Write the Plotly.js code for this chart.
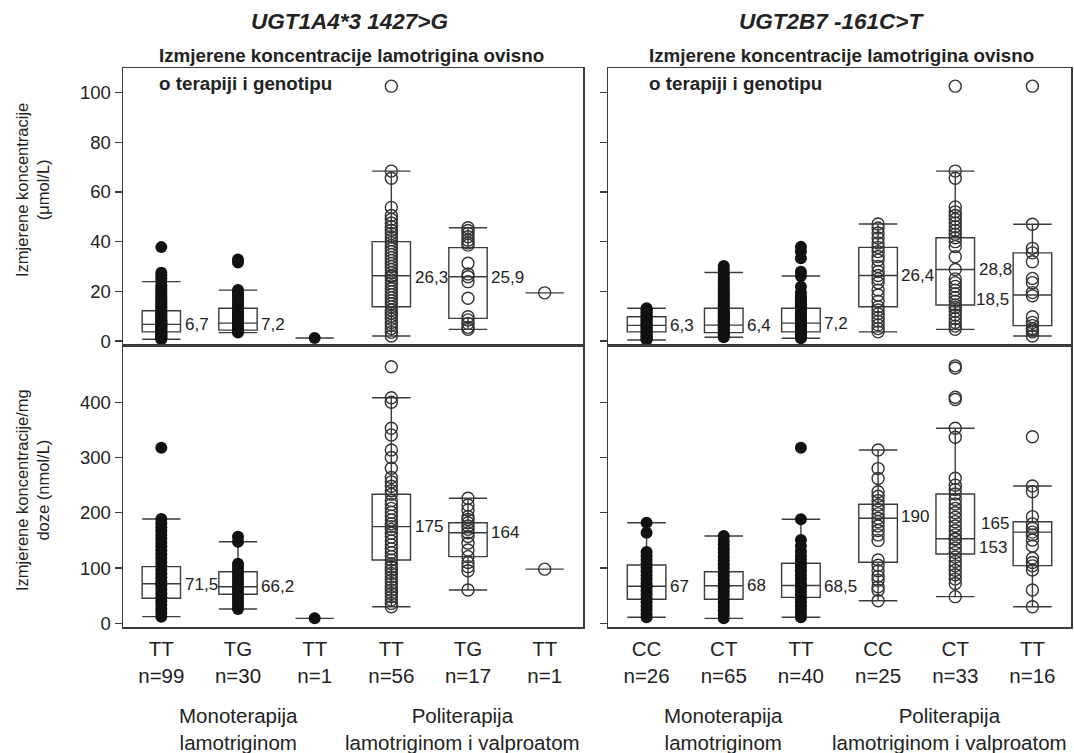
<!DOCTYPE html>
<html><head><meta charset="utf-8">
<script src="https://cdn.plot.ly/plotly-3.0.1.min.js"></script>
<style>html,body{margin:0;padding:0;background:#fff}#chart{width:1074px;height:753px}</style>
</head><body><div id="chart"></div>
<script>
// ---------- categories ----------
const ugt1Genotypes = ['TT','TG','TT','TT','TG','TT'];
const ugt1Counts = [99,30,1,56,17,1];
const ugt2Genotypes = ['CC','CT','TT','CC','CT','TT'];
const ugt2Counts = [26,65,40,25,33,16];
const therapyGroups = ['Monoterapija<br>lamotriginom','Politerapija<br>lamotriginom i valproatom'];
const geneTitles = ['UGT1A4*3 1427>G','UGT2B7 -161C>T'];
const subTitle1 = 'Izmjerene koncentracije lamotrigina ovisno';
const subTitle2 = 'o terapiji i genotipu';
const yTitleConc = 'Izmjerene koncentracije<br>(μmol/L)';
const yTitleDose = 'Izmjerene koncentracije/mg<br>doze (nmol/L)';

// ---------- UGT1A4, concentration (μmol/L) ----------
const ugt1ConcQ1  = [3.7, 4.4, 1.2, 13.8, 9.1, 19.4];
const ugt1ConcMed = [6.7, 7.2, 1.2, 26.3, 25.9, 19.4];
const ugt1ConcQ3  = [12.2, 13.2, 1.2, 40.0, 37.6, 19.4];
const ugt1ConcLo  = [0.7, 3.4, 1.2, 2.0, 4.7, 19.4];
const ugt1ConcHi  = [23.9, 20.5, 1.2, 68.4, 45.6, 19.4];
const ugt1ConcLabels = ['6,7','7,2','','26,3','25,9',''];
const ugt1ConcPoints = [
  [0.7,1.1,1.5,1.9,2.3,2.7,3.0,3.4,3.7,4.1,4.5,4.9,5.3,5.6,6.0,6.4,6.7,7.1,7.5,7.9,8.4,8.9,9.4,9.9,10.5,11.1,11.7,12.2,12.9,13.6,14.3,15.1,15.9,16.7,17.6,18.5,19.4,20.3,21.3,22.4,23.9,25.2,26.4,27.5,37.8],
  [3.4,3.9,4.4,5.0,5.6,6.2,6.8,7.2,7.8,8.5,9.2,10.0,10.8,11.6,12.5,13.2,14.2,15.3,16.4,17.6,18.8,19.6,20.5,31.6,32.8],
  [1.2],
  [2.0,3.5,5.0,6.3,7.5,8.8,10.0,11.2,12.5,13.8,15.0,16.2,17.4,18.6,19.8,21.0,22.2,23.4,24.6,25.9,26.3,27.5,28.8,30.0,31.2,32.4,33.6,34.8,36.0,37.2,38.4,39.6,40.8,42.0,43.3,44.6,46.0,47.5,49.0,50.5,53.8,65.5,68.4,102.6],
  [4.7,5.5,7.1,8.5,9.8,17.2,23.9,25.9,27.0,31.3,38.6,39.5,40.6,42.0,43.3,44.5,45.6],
  [19.4]
];

// ---------- UGT2B7, concentration (μmol/L) ----------
const ugt2ConcQ1  = [3.7, 3.4, 3.7, 13.8, 14.5, 6.2];
const ugt2ConcMed = [6.3, 6.4, 7.2, 26.4, 28.8, 18.5];
const ugt2ConcQ3  = [9.8, 13.2, 13.2, 37.7, 41.6, 35.5];
const ugt2ConcLo  = [0.4, 1.5, 1.1, 3.7, 4.7, 2.0];
const ugt2ConcHi  = [13.2, 27.6, 26.2, 47.1, 68.4, 47.0];
const ugt2ConcLabels = ['6,3','6,4','7,2','26,4','28,8','18,5'];
const ugt2ConcPoints = [
  [0.4,0.9,1.4,1.9,2.4,2.9,3.4,3.9,4.4,4.9,5.4,5.9,6.3,6.8,7.3,7.8,8.3,8.8,9.3,9.8,10.4,11.0,11.6,12.2,12.7,13.2],
  [1.5,2.0,2.5,3.0,3.5,4.0,4.5,5.0,5.5,6.0,6.4,6.9,7.4,7.9,8.4,9.0,9.6,10.2,10.8,11.4,12.0,12.6,13.2,13.9,14.6,15.3,16.0,16.8,17.6,18.4,19.2,20.0,20.9,21.8,22.7,23.6,24.6,25.6,26.6,27.6,28.9,30.2],
  [1.1,1.6,2.1,2.6,3.1,3.7,4.2,4.7,5.2,5.8,6.4,7.0,7.2,7.8,8.4,9.0,9.7,10.4,11.1,11.8,12.5,13.2,14.0,14.8,15.6,16.4,17.2,17.8,19.5,21.9,26.2,27.9,33.3,36.0,37.9],
  [3.7,5.0,6.5,8.0,9.5,11.0,12.5,13.8,16.0,18.5,20.5,23.5,25.0,26.4,28.0,30.0,32.6,34.0,36.0,37.7,39.5,41.5,43.5,45.5,47.1],
  [4.7,6.0,7.5,9.0,10.5,12.0,13.5,14.5,16.0,17.5,19.0,20.5,22.0,23.5,25.0,28.8,33.9,38.0,40.0,41.6,43.0,44.5,46.0,47.5,49.0,50.5,52.0,54.0,65.5,68.4,102.6],
  [2.0,3.7,4.5,5.0,6.2,7.5,9.8,18.2,19.5,23.5,25.2,31.9,35.5,37.3,47.0,102.6]
];

// ---------- UGT1A4, dose-normalised (nmol/L) ----------
const ugt1DoseQ1  = [45.2, 52.5, 9, 114.6, 120.6, 98];
const ugt1DoseMed = [71.5, 66.2, 9, 175, 164, 98];
const ugt1DoseQ3  = [102.5, 93.4, 9, 233.5, 182.1, 98];
const ugt1DoseLo  = [12, 25.9, 9, 30, 60.3, 98];
const ugt1DoseHi  = [188.8, 147.7, 9, 408.3, 226.2, 98];
const ugt1DoseLabels = ['71,5','66,2','','175','164',''];
const ugt1DosePoints = [
  [12,19,26,33,40,47,54,61,68,71.5,76,83,90,97,104,111,118,125,132,139,146,153,160,167,174,181,188.8,317.8],
  [25.9,32,38,44,50,56,62,66.2,72,78,84,90,96,102,108,147.7,156.8],
  [9],
  [30,36,42,48,54,60,66,72,78,84,90,96,102,108,114.6,121,128,135,142,149,156,163,170,175,180,187,194,201,208,215,222,233.5,240,248,256,264,280.5,300,313.7,341,353,400,408.3,464.4],
  [60.3,95,102.5,110,120.6,132.7,145,157,164,170,176,182,188,193,205,214,226.2],
  [98]
];

// ---------- UGT2B7, dose-normalised (nmol/L) ----------
const ugt2DoseQ1  = [43.4, 43.4, 47, 110.4, 125.4, 104.3];
const ugt2DoseMed = [67, 68, 68.5, 190, 153, 165];
const ugt2DoseQ3  = [105.5, 93.4, 108.6, 215.4, 234, 183.9];
const ugt2DoseLo  = [10.9, 9, 10.9, 40.9, 48.2, 30];
const ugt2DoseHi  = [182, 158, 188.2, 313.7, 353, 248.5];
const ugt2DoseLabels = ['67','68','68,5','190','153','165'];
const ugt2DosePoints = [
  [10.9,17,24,31,38,45,52,59,66,67,73,80,87,94,101,108,115,122,129,164,182],
  [9,16,23,30,37,44,51,58,65,68,72,79,86,93,100,107,114,121,128,135,142,149,158],
  [10.9,17,24,31,38,45,52,59,66,68.5,73,80,87,94,101,108,115,122,130,140,150.8,188.2,317.8],
  [40.9,60,66,78,85,95,105,114.6,150,160,168,176,184,190,198,206,214,222,230,238,262,280,313.7],
  [48.2,72,80,88,96,104,112,120,128,136,144,152,153,160,168,176,184,192,200,208,216,224,234,242,250,262.4,336.6,353,405,409,462,466],
  [30,60.3,96.5,104,110,117.6,140,150.8,160,165,172,180,193,238,248.5,337.7]
];

// ---------- styling ----------
const FONT = 'Liberation Sans, Arial, Helvetica, sans-serif';
const TXT = '#222';
const LINE = '#3c3c3c';
const positions = [0,1,2,3,4,5];

const traces = [];
const annotations = [];

function addPanel(xa, ya, q1, med, q3, lo, hi, pts, labels, labelSide, labelShift) {
  traces.push({
    type:'box', xaxis:xa, yaxis:ya, x:positions,
    q1:q1, median:med, q3:q3, lowerfence:lo, upperfence:hi,
    width:0.5, whiskerwidth:1, boxpoints:false,
    line:{color:LINE, width:1.4}, fillcolor:'rgba(0,0,0,0)',
    hoverinfo:'skip', showlegend:false
  });
  const mx=[], my=[], px=[], py=[];
  pts.forEach((arr,i)=>arr.forEach(v=>{
    if (i<3) { mx.push(positions[i]); my.push(v); } else { px.push(positions[i]); py.push(v); }
  }));
  traces.push({type:'scatter', mode:'markers', xaxis:xa, yaxis:ya, x:mx, y:my,
    marker:{symbol:'circle', size:12, color:'#111'}, hoverinfo:'skip', showlegend:false});
  traces.push({type:'scatter', mode:'markers', xaxis:xa, yaxis:ya, x:px, y:py,
    marker:{symbol:'circle-open', size:12, color:'#333', line:{width:1.4}}, hoverinfo:'skip', showlegend:false});
  labels.forEach((t,i)=>{
    if (!t) return;
    const right = labelSide[i] >= 0;
    annotations.push({
      xref:xa, yref:ya, x: positions[i] + (right?0.25:-0.25), y: med[i],
      text:t, showarrow:false, xanchor: right?'left':'right', yanchor:'middle',
      xshift: right?2:-2, yshift: labelShift[i],
      font:{family:FONT, size:17, color:TXT}
    });
  });
}

addPanel('x','y', ugt1ConcQ1, ugt1ConcMed, ugt1ConcQ3, ugt1ConcLo, ugt1ConcHi, ugt1ConcPoints, ugt1ConcLabels,
  [1,1,1,1,1,1], [0,-1,0,-2,-1,0]);
addPanel('x2','y2', ugt2ConcQ1, ugt2ConcMed, ugt2ConcQ3, ugt2ConcLo, ugt2ConcHi, ugt2ConcPoints, ugt2ConcLabels,
  [1,1,1,1,1,-1], [0,0,0,0,0,-4]);
addPanel('x3','y3', ugt1DoseQ1, ugt1DoseMed, ugt1DoseQ3, ugt1DoseLo, ugt1DoseHi, ugt1DosePoints, ugt1DoseLabels,
  [1,1,1,1,1,1], [-1,0,0,0,0,0]);
addPanel('x4','y4', ugt2DoseQ1, ugt2DoseMed, ugt2DoseQ3, ugt2DoseLo, ugt2DoseHi, ugt2DosePoints, ugt2DoseLabels,
  [1,1,1,1,1,-1], [0,0,-1,2,-9,9]);

// page geometry (pixels -> paper)
const W = 1074, H = 753;
const px = v => v / W, py = v => 1 - v / H;
const leftDom = [px(123), px(583)];
const rightDom = [px(608), px(1071)];
const topDom = [py(345), py(68)];
const botDom = [py(627), py(345)];
const catCenters = (d) => positions.map(p => d[0] + (p + 0.5) / 6 * (d[1] - d[0]));

function xAxis(dom, anchor, cats, counts) {
  const a = {domain:dom, anchor:anchor, range:[-0.5,5.5], showgrid:false, zeroline:false,
    showline:true, mirror:true, linecolor:LINE, linewidth:1.5, ticks:'', fixedrange:true};
  if (cats) {
    a.tickmode='array'; a.tickvals=positions;
    a.ticktext = cats.map((c,i)=>c+'<br>n='+counts[i]);
    a.tickfont={family:FONT, size:20.5, color:TXT};
    a.ticklabelstandoff = 3;
  } else { a.showticklabels=false; }
  return a;
}
function yAxis(dom, anchor, range, tickvals, labels) {
  return {domain:dom, anchor:anchor, range:range, tickmode:'array', tickvals:tickvals,
    showgrid:false, zeroline:false, showline:true, mirror:true, linecolor:LINE, linewidth:1.5,
    ticks:'outside', ticklen:7, tickwidth:1.3, tickcolor:LINE, showticklabels:labels,
    tickfont:{family:FONT, size:18.5, color:TXT}, fixedrange:true};
}

const concTicks = [0,20,40,60,80,100];
const doseTicks = [0,100,200,300,400];
const concRange = [-1.6, 109.9];
const doseRange = [-6.7, 503.7];

// titles
annotations.push({xref:'paper', yref:'paper', x:px(349), y:py(22), text:'<b><i>'+geneTitles[0]+'</i></b>',
  showarrow:false, xanchor:'center', yanchor:'middle', font:{family:FONT, size:22.5, color:TXT}});
annotations.push({xref:'paper', yref:'paper', x:px(831), y:py(22), text:'<b><i>'+geneTitles[1]+'</i></b>',
  showarrow:false, xanchor:'center', yanchor:'middle', font:{family:FONT, size:22.5, color:TXT}});
[157, 647].forEach(x0=>{
  annotations.push({xref:'paper', yref:'paper', x:px(x0), y:py(55), text:'<b>'+subTitle1+'</b>',
    showarrow:false, xanchor:'left', yanchor:'middle', font:{family:FONT, size:18.8, color:TXT}});
  annotations.push({xref:'paper', yref:'paper', x:px(x0), y:py(83), text:'<b>'+subTitle2+'</b>',
    showarrow:false, xanchor:'left', yanchor:'middle', font:{family:FONT, size:18.8, color:TXT}});
});
// y-axis titles
annotations.push({xref:'paper', yref:'paper', x:px(32), y:py(190), text:yTitleConc, textangle:-90,
  showarrow:false, xanchor:'center', yanchor:'middle', font:{family:FONT, size:16.5, color:TXT}});
annotations.push({xref:'paper', yref:'paper', x:px(32), y:py(490), text:yTitleDose, textangle:-90,
  showarrow:false, xanchor:'center', yanchor:'middle', font:{family:FONT, size:16.5, color:TXT}});
// therapy group labels
[leftDom, rightDom].forEach(d=>{
  const c = catCenters(d);
  annotations.push({xref:'paper', yref:'paper', x:c[1], y:py(729), text:therapyGroups[0],
    showarrow:false, xanchor:'center', yanchor:'middle', font:{family:FONT, size:20.5, color:TXT}});
  annotations.push({xref:'paper', yref:'paper', x:c[4] - px(6), y:py(729), text:therapyGroups[1],
    showarrow:false, xanchor:'center', yanchor:'middle', font:{family:FONT, size:20.5, color:TXT}});
});

const layout = {
  width:W, height:H, margin:{l:0,r:0,t:0,b:0}, paper_bgcolor:'#fff', plot_bgcolor:'rgba(0,0,0,0)',
  showlegend:false, font:{family:FONT, color:TXT},
  xaxis: xAxis(leftDom,'y',null), yaxis: yAxis(topDom,'x',concRange,concTicks,true),
  xaxis2: xAxis(rightDom,'y2',null), yaxis2: yAxis(topDom,'x2',concRange,concTicks,false),
  xaxis3: xAxis(leftDom,'y3',ugt1Genotypes,ugt1Counts), yaxis3: yAxis(botDom,'x3',doseRange,doseTicks,true),
  xaxis4: xAxis(rightDom,'y4',ugt2Genotypes,ugt2Counts), yaxis4: yAxis(botDom,'x4',doseRange,doseTicks,false),
  annotations: annotations
};

Plotly.newPlot('chart', traces, layout, {displayModeBar:false, staticPlot:true});
</script>
</body></html>
